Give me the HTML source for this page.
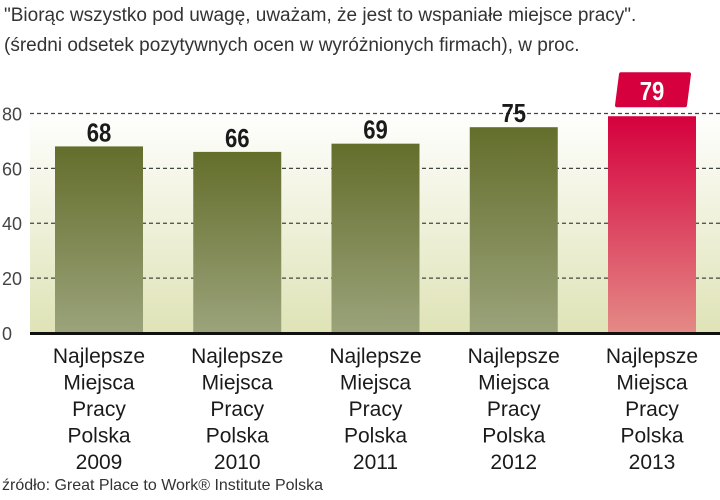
<!DOCTYPE html>
<html><head><meta charset="utf-8"><style>
body{margin:0;background:#fff;width:720px;height:495px;overflow:hidden;font-family:"Liberation Sans",sans-serif}
</style></head><body>
<svg width="720" height="495">
<defs>
<linearGradient id="bg" x1="0" y1="0" x2="0" y2="1"><stop offset="0" stop-color="#ffffff"/><stop offset="1" stop-color="#dfe3b6"/></linearGradient>
<linearGradient id="gg" x1="0" y1="0" x2="0" y2="1"><stop offset="0" stop-color="#646e2b"/><stop offset="1" stop-color="#9ba37b"/></linearGradient>
<linearGradient id="rg" x1="0" y1="0" x2="0" y2="1"><stop offset="0" stop-color="#d5003d"/><stop offset="1" stop-color="#e48a86"/></linearGradient>
</defs>
<text x="4" y="21" font-size="19" fill="#333">"Biorąc wszystko pod uwagę, uważam, że jest to wspaniałe miejsce pracy".</text>
<text x="4" y="51" font-size="19" fill="#333">(średni odsetek pozytywnych ocen w wyróżnionych firmach), w proc.</text>
<rect x="30" y="110" width="690" height="223" fill="url(#bg)"/>
<g id="grid"></g>
<g id="bars"></g>
<rect x="30" y="332" width="690" height="3" fill="#111"/>
<g id="cats"></g>
<text x="2" y="490" font-size="16" fill="#333">źródło: Great Place to Work® Institute Polska</text>
</svg>
<script>
const categories=["2009","2010","2011","2012","2013"];
const values=[68,66,69,75,79];
const ticks=[0,20,40,60,80];
const NS="http://www.w3.org/2000/svg";
function y(v){return 333-v*2.744;}
function x(i){return 55+i*138.25;}
function mk(t,a,p){const e=document.createElementNS(NS,t);for(const k in a)e.setAttribute(k,a[k]);p.appendChild(e);return e;}
const grid=document.getElementById('grid'),bars=document.getElementById('bars'),cats=document.getElementById('cats');
ticks.forEach(t=>{
  if(t>0){const l=mk('line',{x1:30,x2:720,y1:y(t),y2:y(t),stroke:'#444','stroke-width':1.3,'stroke-dasharray':'4,3'},grid);
  
  }
  const tx=mk('text',{x:2,y:y(t)+7,'font-size':18,fill:'#444'},grid);tx.textContent=t;
  
  
});
values.forEach((v,i)=>{
  const last=i===values.length-1;
  const r=mk('rect',{x:x(i),y:y(v),width:88,height:333-y(v),fill:last?'url(#rg)':'url(#gg)'},bars);
  
  
  const cx=x(i)+44;
  let ty=y(v)-5;
  if(last){
    const by=y(v)-42;
    const b=mk('path',{d:'M'+(cx-31)+','+by+' h68 l-4,31 h-68 z',fill:'#d6003f','stroke-linejoin':'round',stroke:'#d6003f','stroke-width':4},bars);
    
    
    ty=by+26;
  }
  const t=mk('text',{x:cx/0.85,y:ty,'text-anchor':'middle','font-size':26,'font-weight':'bold',fill:last?'#fff':'#1a1a1a',transform:'scale(0.85,1)'},bars);
  t.textContent=v;
  
  
  const lines=["Najlepsze","Miejsca","Pracy","Polska",categories[i]];
  lines.forEach((s,j)=>{
    const c=mk('text',{x:cx,y:363+j*26.5,'text-anchor':'middle','font-size':21,fill:'#1a1a1a'},cats);
    c.textContent=s;
    
    
  });
});
</script>
</body></html>
